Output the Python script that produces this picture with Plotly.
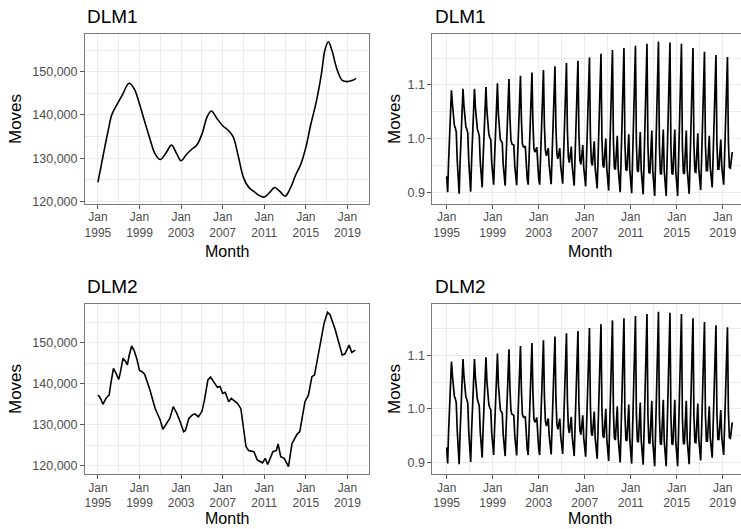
import pandas as pd
import plotly.graph_objects as go

# ---------------- data ----------------
dlm1_level_dates = ["1995-01", "1995-07", "1996-01", "1996-05", "1996-10", "1997-05", "1998-01",
                    "1998-07", "1999-01", "1999-07", "2000-01", "2000-07", "2001-01", "2001-07",
                    "2002-02", "2002-08", "2003-01", "2003-07", "2004-01", "2004-07", "2005-01",
                    "2005-07", "2005-12", "2006-06", "2007-01", "2007-07", "2008-01", "2008-07",
                    "2009-01", "2009-07", "2010-01", "2010-07", "2011-01", "2011-07", "2012-01",
                    "2012-07", "2013-01", "2013-07", "2014-01", "2014-07", "2015-01", "2015-07",
                    "2016-01", "2016-07", "2016-11", "2017-03", "2017-07", "2018-01", "2018-07",
                    "2019-01", "2019-07", "2019-11"]
dlm1_level_values = [124400, 130500, 136500, 140000, 142000, 144500, 147300,
                     146000, 142500, 138500, 134500, 131000, 129700, 131000,
                     133000, 131000, 129400, 130800, 132000, 133000, 135500,
                     139500, 140900, 139300, 137500, 136500, 135000, 130500,
                     125500, 123300, 122300, 121400, 121000, 122000, 123200,
                     122300, 121200, 123000, 126000, 128500, 132500, 138000,
                     143000, 149500, 155000, 156900, 155000, 150500, 148000,
                     147700, 148000, 148450]

dlm2_level_dates = ["1995-01", "1995-03", "1995-07", "1995-10", "1996-01", "1996-02", "1996-04",
                    "1996-07", "1996-10", "1997-01", "1997-03", "1997-06", "1997-09", "1997-11",
                    "1998-01", "1998-04", "1998-07", "1998-10", "1999-01", "1999-04", "1999-07",
                    "2000-01", "2000-07", "2001-01", "2001-04", "2001-08", "2001-12", "2002-04",
                    "2002-08", "2002-12", "2003-04", "2003-06", "2003-10", "2004-02", "2004-05",
                    "2004-09", "2005-01", "2005-04", "2005-08", "2005-11", "2006-03", "2006-07",
                    "2006-10", "2007-01", "2007-04", "2007-08", "2007-11", "2008-03", "2008-06",
                    "2008-10", "2009-01", "2009-04", "2009-07", "2010-01", "2010-05", "2010-11",
                    "2011-02", "2011-05", "2011-11", "2012-03", "2012-05", "2012-08", "2012-12",
                    "2013-05", "2013-09", "2014-03", "2014-06", "2014-12", "2015-04", "2015-08",
                    "2015-11", "2016-05", "2016-10", "2017-02", "2017-05", "2017-11", "2018-03",
                    "2018-07", "2018-10", "2019-03", "2019-06", "2019-10"]
dlm2_level_values = [137200, 136800, 135000, 136300, 137100, 137200, 140100,
                     143700, 142500, 141000, 142800, 146200, 145400, 144600,
                     146800, 149200, 148000, 146000, 143200, 142900, 142300,
                     138500, 134000, 131100, 128900, 130300, 131500, 134400,
                     132800, 130700, 128300, 128600, 131500, 132400, 132600,
                     131900, 133200, 136000, 140900, 141600, 140500, 139100,
                     139300, 137600, 137900, 135600, 136400, 135800, 135200,
                     133900, 128700, 124600, 123700, 123400, 121400, 120700,
                     121800, 120300, 123400, 123700, 125300, 122200, 121800,
                     119800, 125400, 127700, 128300, 135600, 137200, 141700,
                     142100, 148600, 154700, 157400, 156800, 153100, 149800,
                     147000, 147200, 149400, 147600, 148200]

# seasonal factors, one row per year (Jan..Dec), series ends Nov 2019
season_start = "1995-01-01"
seasonal_dlm1_rows = [
    [0.930, 0.900, 0.955, 1.010, 1.060, 1.090, 1.065, 1.040, 1.025, 1.020, 1.012, 0.960],
    [0.920, 0.897, 0.955, 1.010, 1.062, 1.093, 1.062, 1.035, 1.022, 1.018, 1.010, 0.958],
    [0.918, 0.901, 0.957, 1.012, 1.063, 1.093, 1.058, 1.030, 1.018, 1.012, 1.005, 0.958],
    [0.922, 0.909, 0.960, 1.015, 1.065, 1.096, 1.052, 1.020, 1.008, 1.002, 0.998, 0.955],
    [0.925, 0.914, 0.962, 1.018, 1.070, 1.103, 1.045, 1.008, 0.998, 0.995, 0.992, 0.952],
    [0.925, 0.912, 0.963, 1.020, 1.075, 1.111, 1.040, 0.998, 0.990, 0.988, 0.988, 0.950],
    [0.925, 0.913, 0.964, 1.022, 1.080, 1.117, 1.035, 0.990, 0.985, 0.984, 0.986, 0.950],
    [0.925, 0.914, 0.965, 1.025, 1.083, 1.123, 1.030, 0.982, 0.975, 0.978, 0.984, 0.950],
    [0.925, 0.914, 0.966, 1.028, 1.087, 1.128, 1.025, 0.978, 0.968, 0.975, 0.982, 0.950],
    [0.925, 0.915, 0.967, 1.030, 1.092, 1.135, 1.020, 0.972, 0.962, 0.972, 0.982, 0.948],
    [0.925, 0.916, 0.968, 1.033, 1.097, 1.141, 1.015, 0.965, 0.955, 0.972, 0.985, 0.948],
    [0.922, 0.912, 0.967, 1.035, 1.100, 1.145, 1.010, 0.960, 0.952, 0.975, 0.988, 0.946],
    [0.920, 0.911, 0.966, 1.038, 1.105, 1.151, 1.005, 0.955, 0.950, 0.978, 0.995, 0.945],
    [0.918, 0.907, 0.964, 1.040, 1.110, 1.158, 1.000, 0.950, 0.946, 0.980, 1.000, 0.945],
    [0.915, 0.903, 0.962, 1.042, 1.114, 1.165, 0.995, 0.945, 0.942, 0.982, 1.005, 0.944],
    [0.912, 0.900, 0.960, 1.043, 1.117, 1.169, 0.992, 0.942, 0.940, 0.985, 1.008, 0.943],
    [0.910, 0.898, 0.960, 1.044, 1.120, 1.173, 0.990, 0.940, 0.938, 0.985, 1.012, 0.942],
    [0.908, 0.896, 0.958, 1.045, 1.122, 1.177, 0.988, 0.937, 0.935, 0.987, 1.015, 0.940],
    [0.905, 0.893, 0.957, 1.046, 1.125, 1.181, 0.985, 0.935, 0.933, 0.988, 1.017, 0.940],
    [0.905, 0.893, 0.957, 1.045, 1.124, 1.179, 0.985, 0.935, 0.933, 0.988, 1.017, 0.940],
    [0.905, 0.893, 0.957, 1.044, 1.122, 1.177, 0.985, 0.936, 0.934, 0.987, 1.015, 0.942],
    [0.908, 0.897, 0.958, 1.042, 1.117, 1.169, 0.987, 0.938, 0.937, 0.985, 1.010, 0.944],
    [0.912, 0.904, 0.960, 1.040, 1.112, 1.162, 0.990, 0.940, 0.940, 0.982, 1.005, 0.946],
    [0.918, 0.909, 0.963, 1.037, 1.107, 1.156, 0.992, 0.943, 0.943, 0.980, 0.998, 0.948],
    [0.922, 0.914, 0.965, 1.035, 1.103, 1.152, 0.995, 0.946, 0.945, 0.960, 0.975],
]
seasonal_dlm2_rows = [
    [0.928, 0.898, 0.955, 1.010, 1.058, 1.088, 1.063, 1.038, 1.024, 1.019, 1.011, 0.960],
] + [list(r) for r in seasonal_dlm1_rows[1:]]

x_tick_years = [1995, 1999, 2003, 2007, 2011, 2015, 2019]
x_minor_years = [1997, 2001, 2005, 2009, 2013, 2017, 2021]
level_ticks = [120000, 130000, 140000, 150000]
level_minor = [115000, 125000, 135000, 145000, 155000]
season_ticks = [0.9, 1.0, 1.1]
season_minor = [0.85, 0.95, 1.05, 1.15]
panel_titles = ["DLM1", "DLM1", "DLM2", "DLM2"]

# ---------------- build ----------------
W, H = 741, 529
FONT = "Liberation Sans, Arial, Helvetica, sans-serif"
LINE = "#000000"
GRID = "#EBEBEB"
BORDER = "#7a7a7a"
TICKMARK = "#555555"
TICKC = "#4D4D4D"


def flat(rows):
    return [v for r in rows for v in r]


s1 = flat(seasonal_dlm1_rows)
s2 = flat(seasonal_dlm2_rows)
s1_dates = pd.date_range(season_start, periods=len(s1), freq="MS")
s2_dates = pd.date_range(season_start, periods=len(s2), freq="MS")

fig = go.Figure()
fig.add_trace(go.Scatter(x=pd.to_datetime(dlm1_level_dates), y=dlm1_level_values, mode="lines",
                         line=dict(color=LINE, width=1.6, shape="spline", smoothing=1.0),
                         xaxis="x", yaxis="y", showlegend=False))
fig.add_trace(go.Scatter(x=s1_dates, y=s1, mode="lines", line=dict(color=LINE, width=1.7),
                         xaxis="x2", yaxis="y2", showlegend=False))
fig.add_trace(go.Scatter(x=pd.to_datetime(dlm2_level_dates), y=dlm2_level_values, mode="lines",
                         line=dict(color=LINE, width=1.6),
                         xaxis="x3", yaxis="y3", showlegend=False))
fig.add_trace(go.Scatter(x=s2_dates, y=s2, mode="lines", line=dict(color=LINE, width=1.7),
                         xaxis="x4", yaxis="y4", showlegend=False))

tickvals = [f"{y}-01-01" for y in x_tick_years]
ticktext = [f"Jan<br>{y}" for y in x_tick_years]
minorvals = [f"{y}-01-01" for y in x_minor_years]

left_dom = [85 / W, 369 / W]
right_dom = [432.4 / W, 1.0]
top_dom = [1 - 204 / H, 1 - 34 / H]
bot_dom = [1 - 474.3 / H, 1 - 304.3 / H]


def xax(dom, rng, anchor):
    return dict(domain=dom, range=rng, anchor=anchor, type="date",
                tickmode="array", tickvals=tickvals, ticktext=ticktext,
                ticks="outside", ticklen=4, tickwidth=1, tickcolor=TICKMARK,
                tickfont=dict(family=FONT, size=12, color=TICKC),
                ticklabelstandoff=-2,
                showgrid=True, gridcolor=GRID, gridwidth=1.1,
                minor=dict(tickvals=minorvals, showgrid=True, gridcolor=GRID, gridwidth=0.6, ticks=""),
                showline=True, linecolor=BORDER, linewidth=1, mirror=True,
                zeroline=False, automargin=False, fixedrange=True)


def yax(dom, rng, anchor, tv, mv, fmt, mirror):
    return dict(domain=dom, range=rng, anchor=anchor,
                tickmode="array", tickvals=tv, tickformat=fmt,
                ticks="outside", ticklen=4, tickwidth=1, tickcolor=TICKMARK,
                tickfont=dict(family=FONT, size=12.5, color=TICKC),
                showgrid=True, gridcolor=GRID, gridwidth=1.1,
                minor=dict(tickvals=mv, showgrid=True, gridcolor=GRID, gridwidth=0.6, ticks=""),
                showline=True, linecolor=BORDER, linewidth=1, mirror=mirror,
                zeroline=False, automargin=False, fixedrange=True)


left_rng = ["1993-10-05", "2021-01-27"]
right_rng = ["1993-10-04", "2020-08-04"]

fig.update_layout(
    width=W, height=H, margin=dict(l=0, r=0, t=0, b=0),
    paper_bgcolor="white", plot_bgcolor="white",
    font=dict(family=FONT, color="black"),
    xaxis=xax(left_dom, left_rng, "y"),
    xaxis2=xax(right_dom, right_rng, "y2"),
    xaxis3=xax(left_dom, left_rng, "y3"),
    xaxis4=xax(right_dom, right_rng, "y4"),
    yaxis=yax(top_dom, [119400, 158700], "x", level_ticks, level_minor, ",", True),
    yaxis2=yax(top_dom, [0.878, 1.195], "x2", season_ticks, season_minor, ".1f", False),
    yaxis3=yax(bot_dom, [117900, 159350], "x3", level_ticks, level_minor, ",", True),
    yaxis4=yax(bot_dom, [0.878, 1.195], "x4", season_ticks, season_minor, ".1f", False),
)

anns = []
title_pos = [(85, 17), (433, 17), (85, 286), (433, 286)]
for t, (px, py) in zip(panel_titles, title_pos):
    anns.append(dict(text=t, x=px / W, y=1 - py / H, xref="paper", yref="paper",
                     xanchor="left", yanchor="middle", showarrow=False,
                     font=dict(family=FONT, size=19, color="black")))
for px in [227, 589.5]:
    anns.append(dict(text="Month", x=px / W, y=1 - 251.5 / H, xref="paper", yref="paper",
                     xanchor="center", yanchor="middle", showarrow=False,
                     font=dict(family=FONT, size=16, color="black")))
    anns.append(dict(text="Month", x=px / W, y=0.0, xref="paper", yref="paper",
                     xanchor="center", yanchor="bottom", showarrow=False,
                     font=dict(family=FONT, size=16, color="black")))
for px, py in [(15, 119), (394, 119), (15, 389), (394, 389)]:
    anns.append(dict(text="Moves", x=px / W, y=1 - py / H, xref="paper", yref="paper",
                     xanchor="center", yanchor="middle", showarrow=False, textangle=-90,
                     font=dict(family=FONT, size=17, color="black")))
fig.update_layout(annotations=anns)

fig.write_html("out.html")
